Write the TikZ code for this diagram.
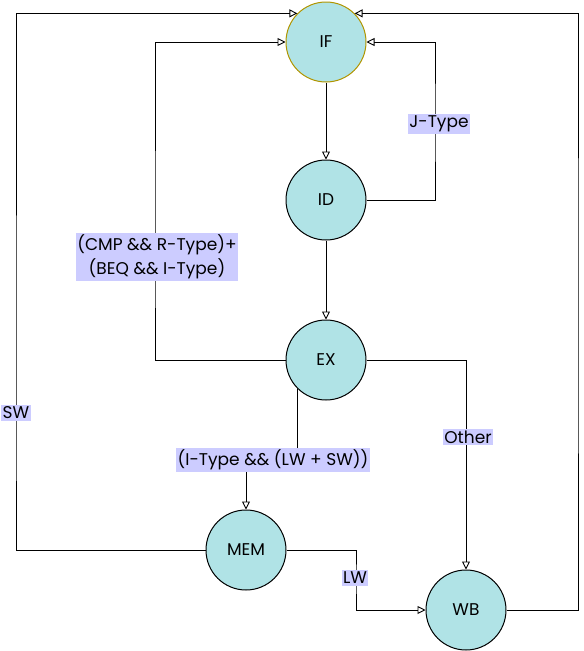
\documentclass[tikz,border=0pt]{standalone}
\usepackage{fontspec}
\setmainfont{Poppins}
\usetikzlibrary{arrows.meta}
\definecolor{stfill}{HTML}{B0E3E6}
\definecolor{ifline}{HTML}{B09500}
\definecolor{lblbg}{HTML}{CCCCFF}
\begin{document}
\begin{tikzpicture}[x=1pt,y=-1pt,
  state/.style={circle,draw=black,fill=stfill,line width=1pt,minimum size=80pt,inner sep=0pt,font=\fontsize{17}{20}\selectfont},
  arr/.style={draw=black,line width=0.9pt,-{Triangle[open,length=8pt,width=8pt]}},
  lbl/.style={fill=lblbg,inner xsep=1.5pt,inner ysep=2pt,align=center,font=\fontsize{17}{24}\selectfont}]
\useasboundingbox (0,0) rectangle (584,651);
\node[state,draw=ifline] (IF) at (326,42) {IF};
\node[state] (ID) at (326,200) {ID};
\node[state] (EX) at (326,360) {EX};
\node[state] (MEM) at (246,550) {MEM};
\node[state] (WB) at (466,610) {WB};
\coordinate (jx) at (435,124);
\coordinate (cx) at (155,257);
\coordinate (im) at (272,460);
\coordinate (lw) at (356,578);
\coordinate (sw) at (16,413);
\coordinate (rc) at (578,300);
\draw[arr] (IF) -- (ID);
\draw[arr] (ID) -- (EX);
\draw[arr] (ID.east) -| (jx) |- (IF.east);
\draw[arr] (EX.west) -| (cx) |- (IF.west);
\draw[arr] (EX.south west) |- (im) -| (MEM.north);
\draw[arr] (EX.east) -| (WB.north);
\draw[arr] (MEM.east) -| (lw) |- (WB.west);
\draw[arr] (MEM.west) -| (sw) |- (IF.north west);
\draw[arr] (WB.east) -| (rc) |- (IF.north east);
\node[lbl] (lj) at (439,124) {J-Type};
\node[lbl] (lc) at (157,257) {(CMP \&\& R-Type)+\\(BEQ \&\& I-Type)};
\node[lbl] (li) at (273,460) {(I-Type \&\& (LW + SW))};
\node[lbl] (lo) at (468,437) {Other};
\node[lbl] (ll) at (355,578) {LW};
\node[lbl] (ls) at (16,413) {SW};
\end{tikzpicture}
\end{document}
